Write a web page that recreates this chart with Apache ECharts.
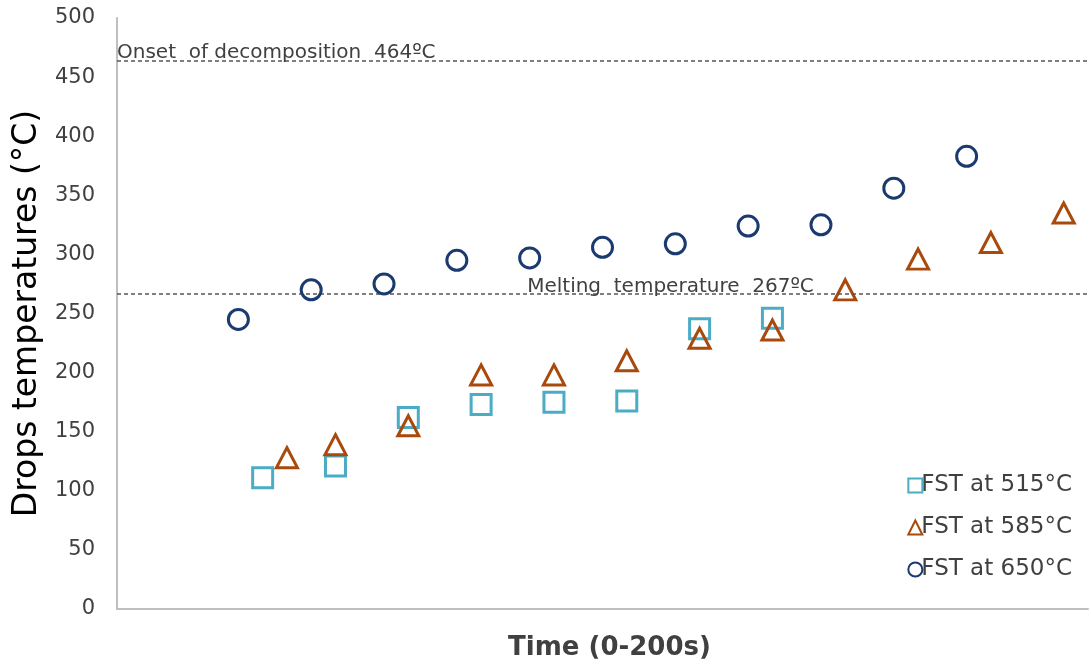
<!DOCTYPE html>
<html>
<head>
<meta charset="utf-8">
<script src="https://cdn.jsdelivr.net/npm/echarts@6/dist/echarts.min.js"></script>
<style>html,body{margin:0;padding:0;background:#fff}#c{width:1091px;height:668px}</style>
</head>
<body>
<div id="c"></div>
<script>
// Time (s) of each drop, per series
const time515 = [30, 45, 60, 75, 90, 105, 120, 135];
const temp515 = [111, 121, 162, 173, 175, 176, 237, 246];
const time585 = [35, 45, 60, 75, 90, 105, 120, 135, 150, 165, 180, 195];
const temp585 = [128, 139, 155, 198, 198, 210, 229, 236, 270, 296, 310, 335];
const time650 = [25, 40, 55, 70, 85, 100, 115, 130, 145, 160, 175];
const temp650 = [245, 270, 275, 295, 297, 306, 309, 324, 325, 356, 383];
const seriesNames = ['FST at 515°C', 'FST at 585°C', 'FST at 650°C'];
const onsetTemp = 464;
const meltTemp = 267;
const onsetLabel = 'Onset  of decomposition  464ºC';
const meltLabel = 'Melting  temperature  267ºC';
const meltLabelX = 114;

const zip = (xs, ys) => xs.map((x, i) => [x, ys[i]]);
const font = '"DejaVu Sans", "Liberation Sans", Arial, sans-serif';
const chart = echarts.init(document.getElementById('c'));
const dashLine = {color: '#555', type: [4, 3], width: 1.6};
chart.setOption({
  animation: false,
  grid: {left: 117, right: 3, top: 18, bottom: 59, containLabel: false, outerBoundsMode: 'none'},
  xAxis: {
    type: 'value', min: 0, max: 200,
    name: 'Time (0-200s)', nameLocation: 'middle', nameGap: 26,
    nameTextStyle: {fontFamily: font, fontSize: 26, fontWeight: 'bold', color: '#404040', padding: [0, 0, 0, 14]},
    axisLine: {show: true, lineStyle: {color: '#bfbfbf', width: 2}},
    axisTick: {show: false}, axisLabel: {show: false}, splitLine: {show: false}
  },
  yAxis: {
    type: 'value', min: 0, max: 500, interval: 50,
    name: 'Drops temperatures (°C)', nameLocation: 'middle', nameGap: 70,
    nameTextStyle: {fontFamily: font, fontSize: 33, color: '#000', padding: [0, 0, 0, 0]},
    axisLine: {show: true, lineStyle: {color: '#bfbfbf', width: 2}},
    axisTick: {show: false}, splitLine: {show: false},
    axisLabel: {fontFamily: font, fontSize: 21, color: '#404040', margin: 22}
  },
  legend: {
    orient: 'vertical', right: 14, top: 469, itemGap: 19,
    itemWidth: 14, itemHeight: 14,
    textStyle: {fontFamily: font, fontSize: 23, color: '#404040', padding: [0, 0, 0, -6]},
    data: seriesNames
  },
  series: [
    {
      name: seriesNames[0], type: 'scatter', symbol: 'rect', symbolSize: 20,
      itemStyle: {color: '#fff', borderColor: '#4bacc6', borderWidth: 3, opacity: 1},
      data: zip(time515, temp515), z: 3
    },
    {
      name: seriesNames[1], type: 'scatter', symbol: 'triangle', symbolSize: [21, 20],
      itemStyle: {color: 'rgba(255,255,255,0)', borderColor: '#a9490c', borderWidth: 3, opacity: 1},
      data: zip(time585, temp585), z: 4,
      markLine: {
        silent: true, symbol: 'none', lineStyle: dashLine,
        data: [
          {yAxis: onsetTemp, label: {show: true, position: 'insideStartTop', formatter: onsetLabel,
            fontFamily: font, fontSize: 20, color: '#404040', distance: [0, -2]}},
          {yAxis: meltTemp, label: {show: false}}
        ]
      },
      markPoint: {
        silent: true, symbol: 'circle', symbolSize: 0,
        data: [{coord: [meltLabelX, meltTemp], value: 0,
          label: {show: true, position: 'top', distance: -3, formatter: meltLabel,
            fontFamily: font, fontSize: 20, color: '#404040'}}]
      }
    },
    {
      name: seriesNames[2], type: 'scatter', symbol: 'circle', symbolSize: 20,
      itemStyle: {color: 'rgba(255,255,255,0)', borderColor: '#1b3a70', borderWidth: 3, opacity: 1},
      data: zip(time650, temp650), z: 5
    }
  ]
});
</script>
</body>
</html>
